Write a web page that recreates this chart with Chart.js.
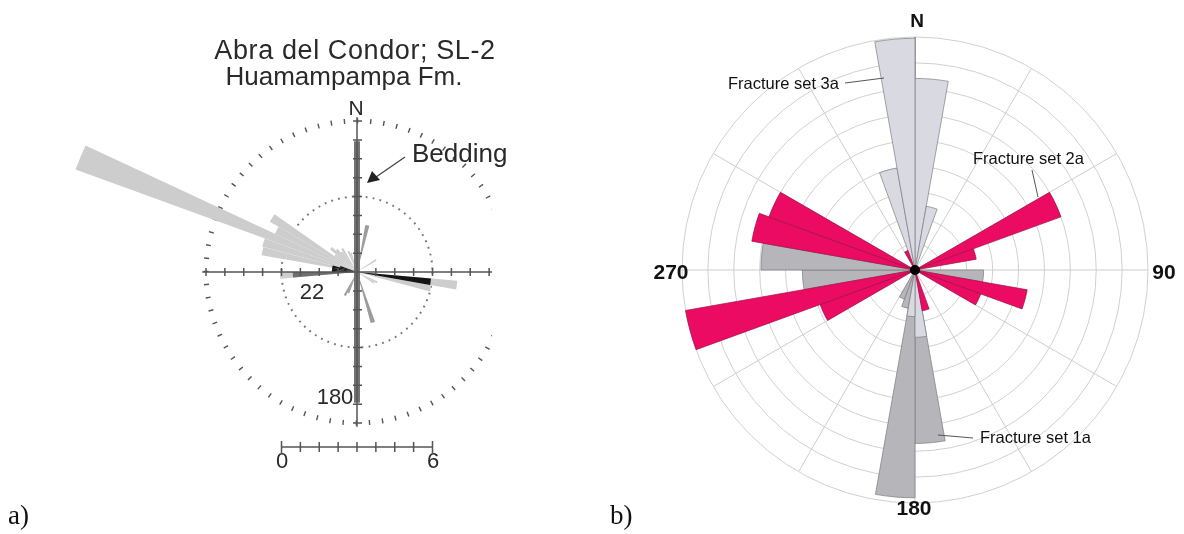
<!DOCTYPE html>
<html>
<head>
<meta charset="utf-8">
<script src="https://cdn.jsdelivr.net/npm/chart.js@4.4.0/dist/chart.umd.min.js"></script>
<style>
  body { margin: 0; background: #fff; }
  #wrap { position: relative; width: 1184px; height: 534px; overflow: hidden; font-family: "Liberation Sans", Arial, sans-serif; }
  canvas { position: absolute; top: 0; }
  .t { position: absolute; white-space: nowrap; line-height: 1; transform: translate(-50%, -50%); color: #2a2a2a; }
  .l { transform: translate(0, -50%); }
  .b { font-weight: bold; color: #111; }
  .serif { font-family: "Liberation Serif", "DejaVu Serif", serif; color: #111; }
</style>
</head>
<body>
<div id="wrap">
  <canvas id="roseA" width="600" height="534" style="left:0"></canvas>
  <canvas id="roseB" width="584" height="534" style="left:600px"></canvas>

  <div class="t" style="left:355px;top:50px;font-size:27px;letter-spacing:0.6px">Abra del Condor; SL-2</div>
  <div class="t" style="left:344px;top:76px;font-size:26px">Huamampampa Fm.</div>
  <div class="t" style="left:356px;top:107px;font-size:21px">N</div>
  <div class="t l" style="left:412px;top:153px;font-size:26px">Bedding</div>
  <div class="t" style="left:312px;top:292px;font-size:22px">22</div>
  <div class="t" style="left:335px;top:397px;font-size:22px">180</div>
  <div class="t" style="left:282px;top:461px;font-size:22px">0</div>
  <div class="t" style="left:433px;top:461px;font-size:22px">6</div>
  <div class="t l serif" style="left:8px;top:515px;font-size:27px">a)</div>

  <div class="t b" style="left:917px;top:20px;font-size:19px">N</div>
  <div class="t b" style="left:671px;top:271px;font-size:21px">270</div>
  <div class="t b" style="left:1164px;top:271px;font-size:21px">90</div>
  <div class="t b" style="left:914px;top:507px;font-size:21px">180</div>
  <div class="t l" style="left:728px;top:83px;font-size:16.5px;color:#111">Fracture set 3a</div>
  <div class="t l" style="left:973px;top:158px;font-size:16.5px;color:#111">Fracture set 2a</div>
  <div class="t l" style="left:980px;top:437px;font-size:16.5px;color:#111">Fracture set 1a</div>
  <div class="t l serif" style="left:610px;top:515px;font-size:27px">b)</div>
</div>

<script>
// ---- a) Abra del Condor, 5 degree bins, radius in scale units (0-6 bar)
const aBin = 5;
const aLightDir = [290, 285, 295, 300, 280, 265, 95, 100, 305, 310, 315, 320, 325, 335, 340, 355, 0, 55, 115, 120];
const aLightLen = [11.9, 3.9, 3.6, 4.0, 3.85, 3.05, 4.0, 3.0, 1.1, 1.4, 1.2, 1.0, 1.1, 0.9, 0.8, 1.5, 1.55, 0.9, 0.9, 0.8];
const aMidDir = [10, 160, 200, 205];
const aMidLen = [1.9, 2.1, 0.9, 1.05];
const aDarkDir = [265];
const aDarkLen = [2.55];
const aBlackDir = [95, 270, 275, 280, 285];
const aBlackLen = [2.95, 1.0, 1.0, 1.0, 0.7];
const aBeddingDir = 0;
const aBeddingLen = 5.2;
const aTickStep = 0.75;

// ---- b) fracture sets, 10 degree bins, radius in ring units
const bBin = 10;
const bSet3Dir = [350, 0, 340, 10, 170, 180];
const bSet3Len = [8.95, 7.4, 4.0, 2.5, 2.6, 1.8];
const bSet1Dir = [180, 170, 270, 260, 90, 190, 200];
const bSet1Len = [8.8, 6.7, 5.95, 4.35, 2.65, 1.5, 1.2];
const bSet2Dir = [250, 280, 290, 60, 100, 240, 110, 70, 160, 330];
const bSet2Len = [9.0, 6.4, 6.0, 6.0, 4.4, 3.9, 2.7, 2.4, 1.6, 0.8];

function binData(size, dirs, lens) {
  const n = 360 / size;
  const out = new Array(n).fill(0);
  dirs.forEach((d, i) => { out[Math.round(d / size) % n] = lens[i]; });
  return out;
}
function binLabels(size) {
  return Array.from({ length: 360 / size }, (_, i) => String(i * size));
}

// axes, ticks, bedding and scale bar of panel a
const axesA = {
  id: 'axesA',
  beforeDraw(chart) {
    const c = chart.ctx;
    c.save();
    c.beginPath();
    c.rect(0, 0, 492, chart.height);
    c.clip();
  },
  afterDraw(chart) {
    chart.ctx.restore();
  },
  afterDatasetsDraw(chart) {
    const s = chart.scales.r;
    const c = chart.ctx;
    const x0 = s.xCenter, y0 = s.yCenter;
    const d = v => s.getDistanceFromCenterForValue(v);
    c.save();
    // bedding
    const ba = aBeddingDir * Math.PI / 180;
    const bl = d(aBeddingLen);
    c.strokeStyle = '#737373';
    c.lineWidth = 6;
    c.beginPath();
    c.moveTo(x0 - Math.sin(ba) * bl, y0 + Math.cos(ba) * bl);
    c.lineTo(x0 + Math.sin(ba) * bl, y0 - Math.cos(ba) * bl);
    c.stroke();
    // axes
    const L = d(6.15);
    c.strokeStyle = '#555';
    c.lineWidth = 1.5;
    c.beginPath();
    c.moveTo(x0 - L, y0); c.lineTo(x0 + L, y0);
    c.moveTo(x0, y0 - L); c.lineTo(x0, y0 + L);
    for (let k = 1; k * aTickStep <= 6; k++) {
      const r = d(k * aTickStep);
      c.moveTo(x0 - r, y0 - 4); c.lineTo(x0 - r, y0 + 4);
      c.moveTo(x0 + r, y0 - 4); c.lineTo(x0 + r, y0 + 4);
      c.moveTo(x0 - 4, y0 - r); c.lineTo(x0 + 5, y0 - r);
      c.moveTo(x0 - 4, y0 + r); c.lineTo(x0 + 5, y0 + r);
    }
    c.stroke();
    // scale bar 0-6
    const yb = y0 + 175, xl = x0 - d(3);
    c.beginPath();
    c.moveTo(xl, yb); c.lineTo(xl + d(6), yb);
    for (let k = 0; k * aTickStep <= 6; k++) {
      const x = xl + d(k * aTickStep);
      const h = (k === 0 || k * aTickStep === 6) ? 6 : 5;
      c.moveTo(x, yb - h); c.lineTo(x, yb + h);
    }
    c.stroke();
    // arrow to bedding
    c.strokeStyle = '#444';
    c.lineWidth = 1.3;
    c.beginPath();
    c.moveTo(405, 157); c.lineTo(376, 177);
    c.stroke();
    c.fillStyle = '#222';
    c.beginPath();
    c.moveTo(367, 183); c.lineTo(372, 171); c.lineTo(380, 180);
    c.closePath();
    c.fill();
    c.restore();
  }
};

new Chart(document.getElementById('roseA'), {
  type: 'polarArea',
  data: {
    labels: binLabels(aBin),
    datasets: [
      { data: binData(aBin, aBlackDir, aBlackLen), backgroundColor: '#141414', borderWidth: 0, clip: false },
      { data: binData(aBin, aDarkDir, aDarkLen), backgroundColor: '#6e6e6e', borderWidth: 0, clip: false },
      { data: binData(aBin, aMidDir, aMidLen), backgroundColor: '#9c9c9c', borderWidth: 0, clip: false },
      { data: binData(aBin, aLightDir, aLightLen), backgroundColor: '#cdcdcd', borderWidth: 0, clip: false }
    ]
  },
  options: {
    responsive: false,
    animation: false,
    events: [],
    layout: { padding: { left: 206, top: 121, right: 92, bottom: 111 } },
    plugins: { legend: { display: false }, tooltip: { enabled: false } },
    scales: {
      r: {
        min: 0, max: 6,
        ticks: { display: false, stepSize: 3 },
        pointLabels: { display: false },
        angleLines: { display: false },
        grid: {
          circular: true,
          color: c => c.tick.value === 6 ? '#555' : '#777',
          lineWidth: c => c.tick.value === 6 ? 5 : 2
        },
        border: { dash: c => c.tick.value === 6 ? [1.4, 11.77] : [1.8, 5.2] }
      }
    }
  },
  plugins: [axesA]
});

// centre dot and leader lines of panel b
const marksB = {
  id: 'marksB',
  afterDatasetsDraw(chart) {
    const s = chart.scales.r;
    const c = chart.ctx;
    c.save();
    c.fillStyle = '#000';
    c.beginPath();
    c.arc(s.xCenter, s.yCenter, 5, 0, Math.PI * 2);
    c.fill();
    c.strokeStyle = '#555';
    c.lineWidth = 1;
    c.beginPath();
    c.moveTo(245, 83); c.lineTo(284, 78);
    c.moveTo(432, 170); c.lineTo(438, 197);
    c.moveTo(338, 435); c.lineTo(373, 438);
    c.stroke();
    c.restore();
  }
};

new Chart(document.getElementById('roseB'), {
  type: 'polarArea',
  data: {
    labels: binLabels(bBin),
    datasets: [
      { label: 'Fracture set 2a', data: binData(bBin, bSet2Dir, bSet2Len), backgroundColor: '#ec0b63', borderColor: '#9a1042', borderWidth: 0.7 },
      { label: 'Fracture set 3a', data: binData(bBin, bSet3Dir, bSet3Len), backgroundColor: '#d9dae1', borderColor: '#7c7c84', borderWidth: 0.7 },
      { label: 'Fracture set 1a', data: binData(bBin, bSet1Dir, bSet1Len), backgroundColor: '#b5b5ba', borderColor: '#7a7a80', borderWidth: 0.7 }
    ]
  },
  options: {
    responsive: false,
    animation: false,
    events: [],
    layout: { padding: { left: 82, top: 37, right: 36, bottom: 31 } },
    plugins: { legend: { display: false }, tooltip: { enabled: false } },
    scales: {
      r: {
        min: 0, max: 9,
        ticks: { display: false, stepSize: 1 },
        pointLabels: { display: false },
        grid: { circular: true, color: '#d0d0d0', lineWidth: 1 },
        angleLines: {
          display: true,
          lineWidth: 1,
          color: c => c.index === 0 ? '#555' : (c.index % 3 === 0 ? '#cdcdcd' : 'rgba(0,0,0,0)')
        }
      }
    }
  },
  plugins: [marksB]
});
</script>
</body>
</html>
